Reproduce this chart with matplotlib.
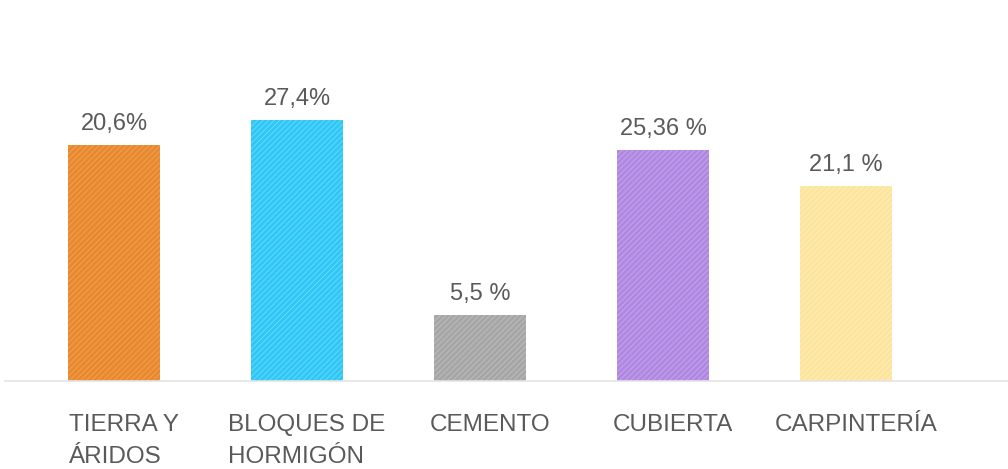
import matplotlib.pyplot as plt
from matplotlib.transforms import offset_copy

# Categories and values (bar heights, labels as printed)
categories = ["TIERRA Y\nÁRIDOS", "BLOQUES DE\nHORMIGÓN", "CEMENTO", "CUBIERTA", "CARPINTERÍA"]
bar_heights = [236, 261, 66, 231, 195]
value_labels = ["20,6%", "27,4%", "5,5 %", "25,36 %", "21,1 %"]

bar_colors = ["#E8892F", "#2FC8F6", "#A6A6A6", "#B088E2", "#FCE49C"]
hatch_colors = ["#F2A556", "#6ED9FA", "#C0C0C0", "#C8A8EE", "#FEF0C0"]

plt.rcParams['font.family'] = ['Liberation Sans', 'DejaVu Sans']
plt.rcParams['hatch.linewidth'] = 0.6

fig = plt.figure(figsize=(10.08, 4.69), dpi=100)
ax = fig.add_axes([5 / 1008, 88 / 469, 1003 / 1008, 381 / 469])

x = list(range(len(categories)))
for i in x:
    ax.bar(i, bar_heights[i], width=0.503, color=bar_colors[i],
           edgecolor=hatch_colors[i], linewidth=0, hatch='//////')

# Value labels above the bars
for i in x:
    ax.annotate(value_labels[i], (i, bar_heights[i]), xytext=(0, 10.8),
                textcoords='offset points', ha='center', va='baseline',
                fontsize=17, color='#5a5a5a')

ax.set_xlim(-0.596, 4.885)
ax.set_ylim(0, 381)

# Category labels under the axis (left aligned lines, slightly right of centre)
shift = offset_copy(ax.get_xaxis_transform(), fig=fig, x=10, y=-33, units='dots')
for i in x:
    ax.text(i, 0, categories[i], transform=shift, ha='center', va='top',
            multialignment='left', fontsize=17.5, color='#5a5a5a', linespacing=1.6)

for side in ['top', 'right', 'left']:
    ax.spines[side].set_visible(False)
ax.spines['bottom'].set_color('#E4E4E4')
ax.spines['bottom'].set_linewidth(1.2)
ax.set_xticks([])
ax.set_yticks([])

fig.savefig("out.png", dpi=100)
